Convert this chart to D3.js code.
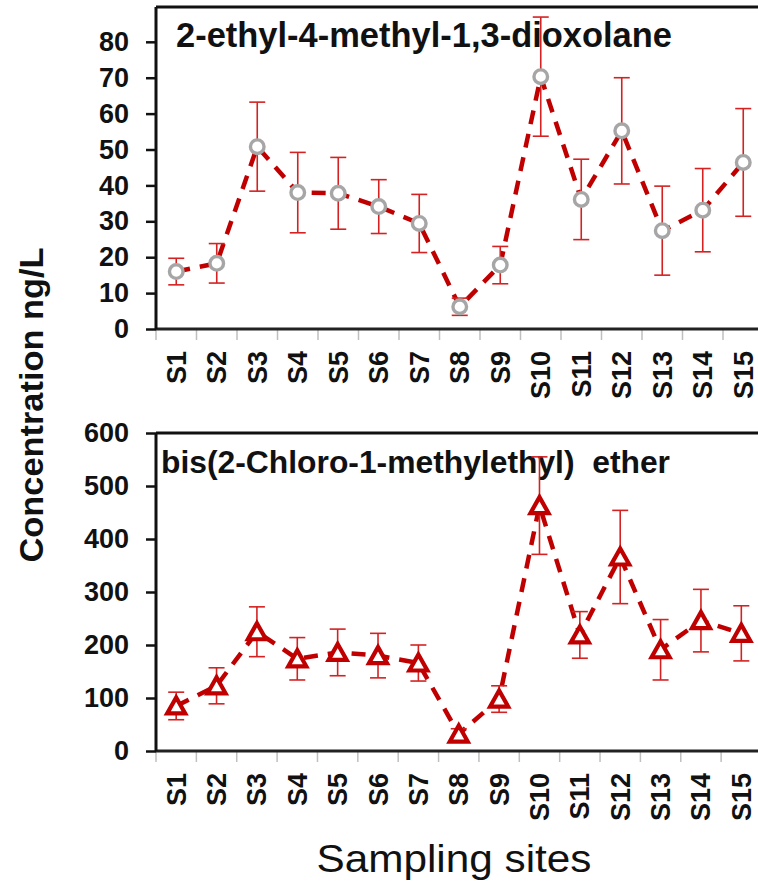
<!DOCTYPE html>
<html>
<head>
<meta charset="utf-8">
<script src="https://cdn.jsdelivr.net/npm/d3@7"></script>
<style>
  body { margin: 0; background: #fff; }
  svg { display: block; }
  text { font-family: "Liberation Sans", Arial, sans-serif; }
</style>
</head>
<body>
<div id="chart"></div>
<script>
// podaci ocitani sa slike
const sites = ["S1", "S2", "S3", "S4", "S5", "S6", "S7", "S8", "S9", "S10", "S11", "S12", "S13", "S14", "S15"];

const dioxolaneMean = [16.0, 18.3, 50.8, 38.0, 37.8, 34.1, 29.4, 6.2, 17.8, 70.3, 36.1, 55.2, 27.4, 33.1, 46.4];
const dioxolaneErr = [3.7, 5.5, 12.4, 11.2, 10.0, 7.5, 8.1, 2.4, 5.2, 16.6, 11.2, 14.8, 12.4, 11.6, 15.0];
const dioxolaneTicks = [0, 10, 20, 30, 40, 50, 60, 70, 80];

const etherMean = [85, 123, 225, 174, 186, 180, 166, 32, 98, 463, 219, 366, 191, 246, 222];
const etherErr = [26, 34, 47, 40, 44, 42, 34, 10, 25, 92, 44, 88, 57, 59, 52];
const etherTicks = [0, 100, 200, 300, 400, 500, 600];

const sirina = 758;
const visina = 883;

const svg = d3.select("#chart")
    .append("svg")
    .attr("width", sirina)
    .attr("height", visina);

svg.append("rect")
    .attr("width", sirina)
    .attr("height", visina)
    .attr("fill", "#fff");

const crvena = "#C00000";

function crtajPanel(cfg) {
    const x = d3.scaleBand()
        .domain(sites)
        .range([cfg.left, cfg.right]);

    const y = d3.scaleLinear()
        .domain([0, cfg.max])
        .range([cfg.bottom, cfg.top]);

    const g = svg.append("g");
    const podaci = sites.map((s, i) => ({ site: s, mean: cfg.mean[i], err: cfg.err[i] }));
    const cx = d => x(d.site) + x.bandwidth() / 2;

    // okvir
    g.append("line")
        .attr("x1", cfg.left).attr("x2", cfg.right)
        .attr("y1", cfg.top).attr("y2", cfg.top)
        .attr("stroke", "#111").attr("stroke-width", 3);
    g.append("line")
        .attr("x1", cfg.right).attr("x2", cfg.right)
        .attr("y1", cfg.top).attr("y2", cfg.bottom)
        .attr("stroke", "#111").attr("stroke-width", 3);

    // x ticks izmedu kategorija
    const granice = sites.map(s => x(s)).concat([cfg.right]);
    g.selectAll(".xtick")
        .data(granice)
        .join("line")
        .attr("x1", d => d).attr("x2", d => d)
        .attr("y1", cfg.bottom).attr("y2", cfg.bottom + 11)
        .attr("stroke", "#BFBFBF").attr("stroke-width", 1.5);

    g.append("line")
        .attr("x1", cfg.left).attr("x2", cfg.right)
        .attr("y1", cfg.bottom).attr("y2", cfg.bottom)
        .attr("stroke", "#222").attr("stroke-width", 3);

    // y os
    const yOs = g.append("g")
        .attr("transform", `translate(${cfg.left},0)`)
        .call(d3.axisLeft(y).tickValues(cfg.ticks).tickSize(10).tickSizeOuter(0).tickPadding(17));
    yOs.select(".domain").attr("stroke", "#111").attr("stroke-width", 3)
        .attr("d", `M0,${cfg.top}V${cfg.bottom}`);
    yOs.selectAll(".tick line").attr("stroke", "#111").attr("stroke-width", 2.5);
    yOs.selectAll(".tick text")
        .attr("font-family", "'Liberation Sans', Arial, sans-serif")
        .attr("font-size", 27)
        .attr("font-weight", "bold")
        .attr("fill", "#111");

    // oznake kategorija
    g.selectAll(".xlab")
        .data(sites)
        .join("text")
        .attr("transform", d => `translate(${x(d) + x.bandwidth() / 2 + 9.5},${cfg.bottom + 22}) rotate(-90)`)
        .attr("text-anchor", "end")
        .attr("font-size", 27)
        .attr("font-weight", "bold")
        .attr("fill", "#111")
        .text(d => d);

    // naslov
    g.append("text")
        .attr("x", cfg.titleX)
        .attr("y", cfg.titleY)
        .attr("font-size", cfg.titleSize)
        .attr("font-weight", "bold")
        .attr("fill", "#111")
        .attr("textLength", cfg.titleLen)
        .attr("lengthAdjust", "spacingAndGlyphs")
        .style("white-space", "pre")
        .text(cfg.title);

    // linija
    const linija = d3.line().x(cx).y(d => y(d.mean));
    g.append("path")
        .datum(podaci)
        .attr("d", linija)
        .attr("fill", "none")
        .attr("stroke", crvena)
        .attr("stroke-width", 4.5)
        .attr("stroke-dasharray", "14,10");

    // error barovi
    const eb = g.selectAll(".eb")
        .data(podaci)
        .join("g");
    eb.append("line")
        .attr("x1", cx).attr("x2", cx)
        .attr("y1", d => y(d.mean - d.err)).attr("y2", d => y(d.mean + d.err))
        .attr("stroke", "#D42222").attr("stroke-width", 1.6);
    eb.append("line")
        .attr("x1", d => cx(d) - 8).attr("x2", d => cx(d) + 8)
        .attr("y1", d => y(d.mean + d.err)).attr("y2", d => y(d.mean + d.err))
        .attr("stroke", "#D42222").attr("stroke-width", 1.6);
    eb.append("line")
        .attr("x1", d => cx(d) - 8).attr("x2", d => cx(d) + 8)
        .attr("y1", d => y(d.mean - d.err)).attr("y2", d => y(d.mean - d.err))
        .attr("stroke", "#D42222").attr("stroke-width", 1.6);

    // markeri
    if (cfg.marker === "circle") {
        g.selectAll(".mk")
            .data(podaci)
            .join("circle")
            .attr("cx", cx)
            .attr("cy", d => y(d.mean))
            .attr("r", 6.8)
            .attr("fill", "#fff")
            .attr("stroke", "#A6A6A6")
            .attr("stroke-width", 3.4);
    } else {
        g.selectAll(".mk")
            .data(podaci)
            .join("path")
            .attr("transform", d => `translate(${cx(d)},${y(d.mean)})`)
            .attr("d", "M0,-8.5L9,7.5L-9,7.5Z")
            .attr("fill", "#fff")
            .attr("stroke", crvena)
            .attr("stroke-width", 4.2);
    }
}

crtajPanel({
    left: 156, right: 763.5, top: 7, bottom: 329, max: 89.7,
    mean: dioxolaneMean, err: dioxolaneErr, ticks: dioxolaneTicks,
    marker: "circle",
    title: "2-ethyl-4-methyl-1,3-dioxolane",
    titleX: 176, titleY: 46.5, titleSize: 35, titleLen: 496
});

crtajPanel({
    left: 156, right: 761.5, top: 433, bottom: 751, max: 600,
    mean: etherMean, err: etherErr, ticks: etherTicks,
    marker: "triangle",
    title: "bis(2-Chloro-1-methylethyl)  ether",
    titleX: 161, titleY: 473, titleSize: 32, titleLen: 509
});

// naslovi osi
svg.append("text")
    .attr("transform", "translate(43,405) rotate(-90)")
    .attr("text-anchor", "middle")
    .attr("font-size", 34)
    .attr("font-weight", "bold")
    .attr("fill", "#111")
    .attr("textLength", 315)
    .attr("lengthAdjust", "spacingAndGlyphs")
    .text("Concentration ng/L");

svg.append("text")
    .attr("x", 454)
    .attr("y", 872)
    .attr("text-anchor", "middle")
    .attr("font-family", "Lato, 'Open Sans', sans-serif")
    .attr("font-size", 38)
    .attr("fill", "#111")
    .attr("textLength", 275)
    .attr("lengthAdjust", "spacingAndGlyphs")
    .text("Sampling sites");
</script>
</body>
</html>
